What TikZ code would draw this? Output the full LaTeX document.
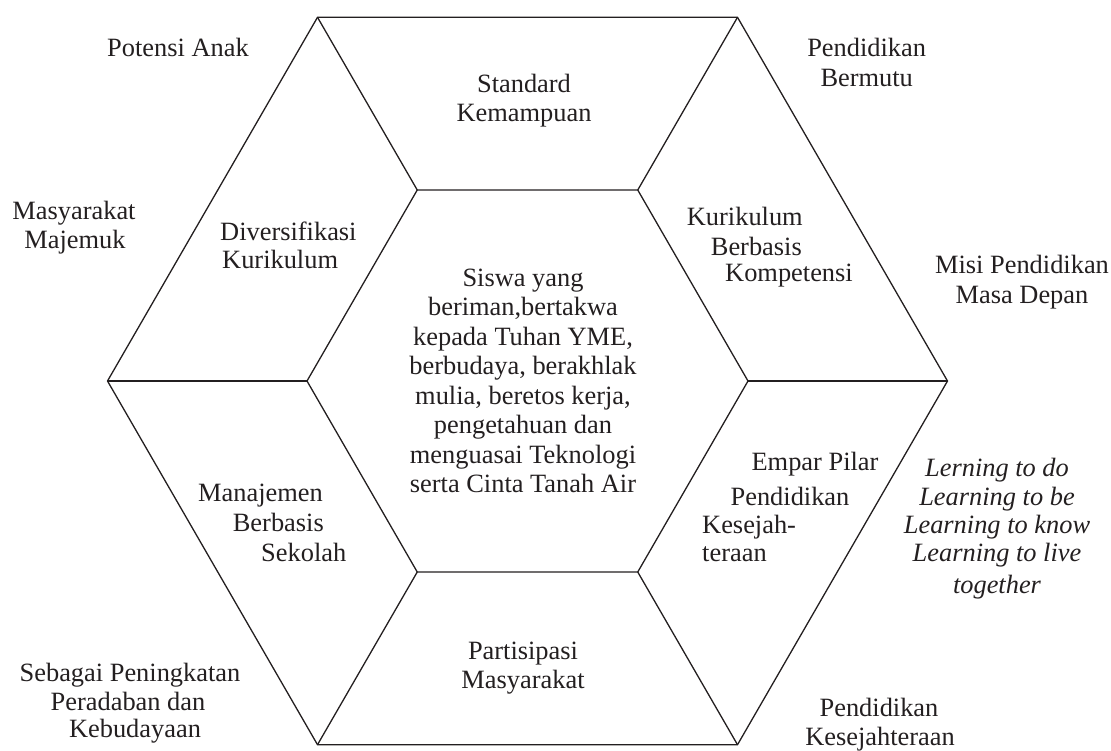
\documentclass[tikz,border=0pt]{standalone}
\usepackage{fontspec}
\setmainfont{Liberation Serif}
\definecolor{ink}{RGB}{35,31,32}
\tikzset{
  lbl/.style={inner sep=0pt, anchor=base, text=ink, font=\fontsize{26.4}{29}\selectfont},
  lblw/.style={lbl, anchor=base west},
  lble/.style={lbl, anchor=base east},
  ital/.style={lbl, font=\fontsize{26.4}{29}\selectfont\itshape},
  edge/.style={draw=ink, line width=1.3pt, line join=miter}
}
\begin{document}
\begin{tikzpicture}[x=1pt,y=-1pt]
\useasboundingbox (0,0) rectangle (1111,750);
% outer hexagon vertices
\coordinate (o1) at (317.5,17.3);
\coordinate (o2) at (737.5,17.3);
\coordinate (o3) at (947.5,381);
\coordinate (o4) at (737.5,744.7);
\coordinate (o5) at (317.5,744.7);
\coordinate (o6) at (107.5,381);
% inner hexagon vertices
\coordinate (i1) at (417.25,190);
\coordinate (i2) at (637.75,190);
\coordinate (i3) at (748,381);
\coordinate (i4) at (637.75,572);
\coordinate (i5) at (417.25,572);
\coordinate (i6) at (307,381);
\draw[edge] (o1) -- (o2) -- (o3) -- (o4) -- (o5) -- (o6) -- cycle;
\draw[edge] (i1) -- (i2) -- (i3) -- (i4) -- (i5) -- (i6) -- cycle;
\draw[edge] (i1) -- (o1);
\draw[edge] (i2) -- (o2);
\draw[edge] (i3) -- (o3);
\draw[edge] (i4) -- (o4);
\draw[edge] (i5) -- (o5);
\draw[edge] (i6) -- (o6);
% outside labels
\node[lbl] (pa) at (178,56.7) {Potensi Anak};
\node[lbl] (mm1) at (74,219) {Masyarakat};
\node[lbl] (mm2) at (75,248) {Majemuk};
\node[lbl] (pb1) at (866.7,56.7) {Pendidikan};
\node[lbl] (pb2) at (866.7,86.7) {Bermutu};
\node[lbl] (mp1) at (1022,273.3) {Misi Pendidikan};
\node[lbl] (mp2) at (1022,303.3) {Masa Depan};
\node[lbl] (sp1) at (130,681.7) {Sebagai Peningkatan};
\node[lbl] (sp2) at (128,710) {Peradaban dan};
\node[lbl] (sp3) at (135,737.3) {Kebudayaan};
\node[lbl] (pk1) at (879,716.7) {Pendidikan};
\node[lbl] (pk2) at (880,745) {Kesejahteraan};
\node[ital] (ln1) at (997,476.7) {Lerning to do};
\node[ital] (ln2) at (997,505) {Learning to be};
\node[ital] (ln3) at (997,533.3) {Learning to know};
\node[ital] (ln4) at (997,561.7) {Learning to live};
\node[ital] (ln5) at (997,593.3) {together};
% ring labels
\node[lbl] (sk1) at (524,92.7) {Standard};
\node[lbl] (sk2) at (524,121) {Kemampuan};
\node[lblw] (dk1) at (220,240) {Diversifikasi};
\node[lblw] (dk2) at (222,268) {Kurikulum};
\node[lblw] (kb1) at (686.7,225) {Kurikulum};
\node[lblw] (kb2) at (710.7,255) {Berbasis};
\node[lblw] (kb3) at (725,281) {Kompetensi};
\node[lble] (mb1) at (323,501.7) {Manajemen};
\node[lble] (mb2) at (324,531.7) {Berbasis};
\node[lblw] (mb3) at (261,561) {Sekolah};
\node[lbl] (pm1) at (523,659.3) {Partisipasi};
\node[lbl] (pm2) at (523,688.3) {Masyarakat};
\node[lbl] (ep1) at (815,470) {Empar Pilar};
\node[lbl] (ep2) at (790,505) {Pendidikan};
\node[lblw] (ep3) at (702,533.3) {Kesejah-};
\node[lblw] (ep4) at (702,561.7) {teraan};
% centre text
\node[lbl] (c1) at (523,286) {Siswa yang};
\node[lbl] (c2) at (523,315.5) {beriman,bertakwa};
\node[lbl] (c3) at (523,345) {kepada Tuhan YME,};
\node[lbl] (c4) at (523,374.5) {berbudaya, berakhlak};
\node[lbl] (c5) at (523,404) {mulia, beretos kerja,};
\node[lbl] (c6) at (523,433.5) {pengetahuan dan};
\node[lbl] (c7) at (523,463) {menguasai Teknologi};
\node[lbl] (c8) at (523,492.5) {serta Cinta Tanah Air};
\end{tikzpicture}
\end{document}
